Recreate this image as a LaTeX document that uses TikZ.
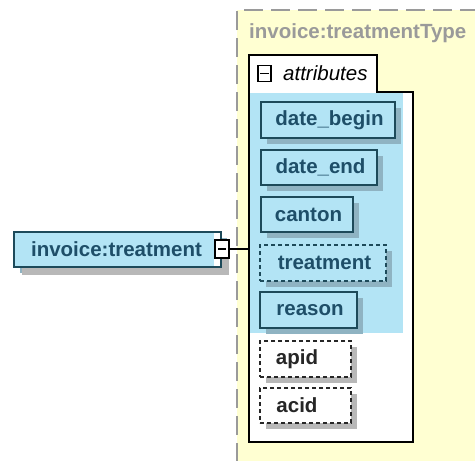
\documentclass[tikz,border=0pt]{standalone}
\usepackage{fontspec}
\setmainfont{Liberation Sans}
\usetikzlibrary{shadows}
\definecolor{typeyellow}{HTML}{FFFFD2}
\definecolor{elblue}{HTML}{B3E4F5}
\definecolor{elborder}{HTML}{1D4A5A}
\definecolor{eltext}{HTML}{1E4E68}
\definecolor{blueshadow}{HTML}{8FB3C2}
\definecolor{grayshadow}{HTML}{B8B8B8}
\definecolor{typegray}{HTML}{9A9A9A}
\begin{document}
\begin{tikzpicture}[x=1pt,y=-1pt,
  every node/.style={font=\fontsize{20.5}{23}\selectfont\bfseries, inner sep=0pt},
  elem/.style={draw=elborder, line width=1.6pt, fill=elblue, text=eltext,
     minimum height=35pt,
     general shadow={fill=blueshadow, shadow xshift=6pt, shadow yshift=-6pt}},
  optelem/.style={elem, dash pattern=on 4pt off 3pt},
  attrelem/.style={draw=black!85, line width=1.4pt, fill=white, text=black!85,
     minimum height=35pt, dash pattern=on 4pt off 3pt,
     general shadow={fill=grayshadow, shadow xshift=6pt, shadow yshift=-6pt}},
  minusbox/.style={draw=black, line width=1.1pt, fill=white}
]
\useasboundingbox (0,0) rectangle (475,461);
% type region
\fill[typeyellow] (237,10) rectangle (476,462);
\draw[typegray, line width=1.4pt, dash pattern=on 19pt off 8pt] (237,462) -- (237,10) -- (476,10);
\node[anchor=west, text=typegray] (typename) at (249,33) {invoice:treatmentType};
% attributes container
\draw[black, line width=1.2pt, fill=white] (249,442) -- (249,55) -- (377,55) -- (377,92) -- (413,92) -- (413,442) -- cycle;
\fill[elblue] (250,93) rectangle (403,333);
\node[minusbox, minimum width=13pt, minimum height=16pt] (attrminus) at (264.5,73.5) {};
\draw[line width=1.1pt] (260,73.5) -- (269,73.5);
\node[anchor=west, font=\fontsize{20.5}{23}\selectfont\itshape] (attrlabel) at (283,73.5) {attributes};
% element
\node[elem, minimum width=207pt, line width=1.8pt,
  general shadow={fill=grayshadow, shadow xshift=8pt, shadow yshift=-8pt}] (treat) at (117.5,249.5) {\hspace*{-2pt}invoice:treatment};
\fill[white] (214,233) rectangle (220,266);
\node[minusbox, minimum width=14pt, minimum height=18pt] (treatminus) at (222,249) {};
\draw[line width=1.1pt] (218,249) -- (226,249);
\coordinate (attrin) at (249,249);
\draw[line width=1.2pt] (treatminus.east) -- (attrin);
% attributes
\node[elem, minimum width=134pt, minimum height=36pt] (dbegin) at (328,120) {\hspace*{3pt}date\_begin};
\node[elem, minimum width=116pt] (dend) at (319,167.5) {\hspace*{3pt}date\_end};
\node[elem, minimum width=92pt] (canton) at (307,214.5) {\hspace*{3pt}canton};
\node[optelem, minimum width=126pt, minimum height=36pt] (tmt) at (323,263) {\hspace*{3pt}treatment};
\node[elem, minimum width=97pt, minimum height=36pt] (reason) at (308.5,310) {\hspace*{3pt}reason};
\node[attrelem, minimum width=91pt, minimum height=36pt] (apid) at (305.5,359) {\hspace*{-17pt}apid};
\node[attrelem, minimum width=91pt] (acid) at (305.5,405.5) {\hspace*{-17pt}acid};
\end{tikzpicture}
\end{document}
